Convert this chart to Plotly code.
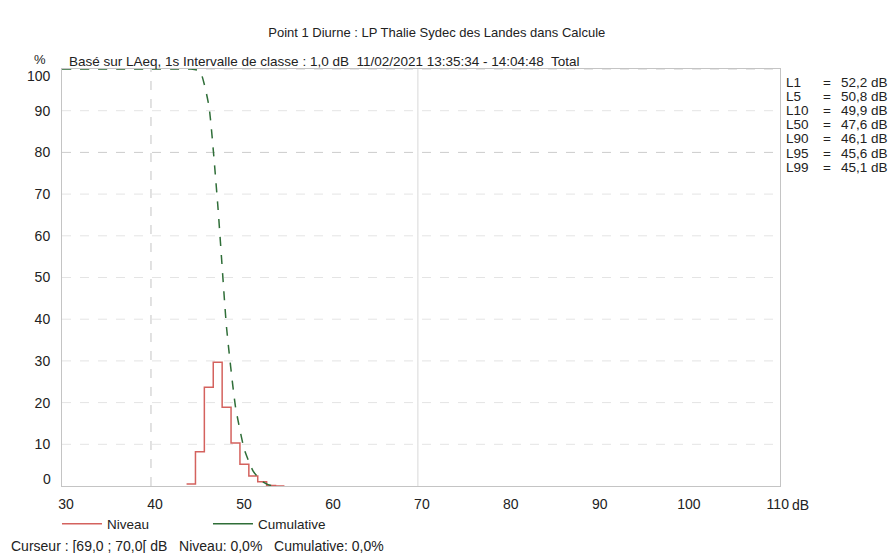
import plotly.graph_objects as go

# Histogram (Niveau), % per 1 dB class, classes starting at these levels
class_start = [44, 45, 46, 47, 48, 49, 50, 51, 52, 53, 54]
niveau = [0.5, 8.2, 23.7, 29.7, 18.9, 10.3, 5.2, 2.4, 1.0, 0.1, 0.0]

# Cumulative (% exceeding), plotted at class centres
cum_x = [30, 40, 43.5, 44.5, 45.5, 46.5, 47.5, 48.5, 49.5, 50.5, 51.5, 52.5, 53.5, 54.5]
cum_y = [100, 100, 100, 100, 99.5, 91.3, 67.6, 37.9, 19.0, 8.7, 3.5, 1.1, 0.1, 0.0]

x_ticks = [30, 40, 50, 60, 70, 80, 90, 100, 110]
y_ticks = [0, 10, 20, 30, 40, 50, 60, 70, 80, 90, 100]

stats_labels = ["L1", "L5", "L10", "L50", "L90", "L95", "L99"]
stats_values = ["52,2", "50,8", "49,9", "47,6", "46,1", "45,6", "45,1"]

title = "Point 1 Diurne : LP Thalie Sydec des Landes dans Calcule"
subtitle = "Basé sur LAeq, 1s Intervalle de classe : 1,0 dB  11/02/2021 13:35:34 - 14:04:48  Total"
cursor = "Curseur : [69,0 ; 70,0[ dB &nbsp; Niveau: 0,0% &nbsp; Cumulative: 0,0%"

RED = "#d4625e"
GREEN = "#2f6e38"
FONT = "Liberation Sans, Arial, sans-serif"
TXT = "#222222"

step_x = class_start + [class_start[-1] + 1]
step_y = niveau + [0.0]

fig = go.Figure()
fig.add_trace(go.Scatter(x=step_x, y=step_y, mode="lines", line=dict(color=RED, width=1.5, shape="hv"),
                         showlegend=False, hoverinfo="skip"))
fig.add_trace(go.Scatter(x=cum_x, y=cum_y, mode="lines",
                         line=dict(color=GREEN, width=1.5, dash="dash", shape="spline", smoothing=0.5),
                         showlegend=False, hoverinfo="skip"))
# legend-only entries (solid samples)
fig.add_trace(go.Scatter(x=[None], y=[None], mode="lines", name="Niveau", line=dict(color=RED, width=1.5)))
fig.add_trace(go.Scatter(x=[None], y=[None], mode="lines", name="Cumulative", line=dict(color=GREEN, width=1.5)))

# grid lines
for yv in y_ticks[1:]:
    fig.add_shape(type="line", xref="x", yref="y", x0=30, x1=110.7, y0=yv, y1=yv,
                  line=dict(color="#e4e4e4" if yv not in (80, 100) else "#cccccc", width=1, dash="dash"),
                  layer="below")
fig.add_shape(type="line", xref="x", yref="y", x0=40, x1=40, y0=0, y1=100,
              line=dict(color="#c4c4c4", width=1, dash="dash"), layer="below")
fig.add_shape(type="line", xref="x", yref="y", x0=70, x1=70, y0=0, y1=100,
              line=dict(color="#d8d8d8", width=1), layer="below")

# end tick labels are nudged inward in the reference
y_ticktext = ["" if v in (y_ticks[0], y_ticks[-1]) else str(v) for v in y_ticks]

fig.update_layout(
    width=895, height=553,
    margin=dict(l=62, r=115, t=69, b=67),
    paper_bgcolor="white", plot_bgcolor="white",
    font=dict(family=FONT, size=14, color=TXT),
    title=dict(text=title, x=0.488, xanchor="center", y=0.942, yanchor="middle",
               font=dict(family=FONT, size=13, color=TXT)),
    xaxis=dict(range=[30, 110.7], tickvals=x_ticks, showgrid=False, zeroline=False,
               showline=True, linecolor="#c4c4c4", linewidth=1, mirror=True,
               ticks="", ticklabelshift=4, ticklabelstandoff=5, tickfont=dict(size=14)),
    yaxis=dict(range=[0, 100], tickvals=y_ticks, ticktext=y_ticktext, showgrid=False, zeroline=False,
               showline=True, linecolor="#c4c4c4", linewidth=1, mirror=True,
               ticks="", ticklabelstandoff=8, tickfont=dict(size=14)),
    legend=dict(orientation="h", x=-0.007, xanchor="left", y=-0.054, yanchor="top",
                font=dict(size=13.5), entrywidth=96, bgcolor="rgba(0,0,0,0)",
                itemwidth=40),
    showlegend=True,
)

for v, sh in ((y_ticks[-1], -7), (y_ticks[0], 7)):
    fig.add_annotation(text=str(v), xref="paper", yref="y", x=0, xshift=-9, y=v, yshift=sh,
                       xanchor="right", yanchor="middle", showarrow=False, font=dict(size=14))

fig.add_annotation(text="%", xref="paper", yref="paper", x=0, xshift=-14, y=1.0, yshift=10,
                   xanchor="right", yanchor="middle", showarrow=False, font=dict(size=13))
fig.add_annotation(text=subtitle, xref="paper", yref="paper", x=0.0, xshift=5, y=1.0, yshift=8,
                   xanchor="left", yanchor="middle", showarrow=False, font=dict(size=13.5))
fig.add_annotation(text="dB", xref="paper", yref="paper", x=1.0, xshift=10, y=0, yshift=-19,
                   xanchor="left", yanchor="middle", showarrow=False, font=dict(size=14))
fig.add_annotation(text=cursor, xref="paper", yref="paper", x=0, xshift=-53, y=0, yshift=-60,
                   xanchor="left", yanchor="middle", showarrow=False, font=dict(size=14))

for i, (lab, val) in enumerate(zip(stats_labels, stats_values)):
    ys = -13 - 14.2 * i
    fig.add_annotation(text=lab, xref="paper", yref="paper", x=1.0, xshift=4, y=1.0, yshift=ys,
                       xanchor="left", yanchor="middle", showarrow=False, font=dict(size=13.5))
    fig.add_annotation(text="=", xref="paper", yref="paper", x=1.0, xshift=41, y=1.0, yshift=ys,
                       xanchor="left", yanchor="middle", showarrow=False, font=dict(size=13.5))
    fig.add_annotation(text=val + " dB", xref="paper", yref="paper", x=1.0, xshift=59, y=1.0,
                       yshift=ys, xanchor="left", yanchor="middle", showarrow=False,
                       font=dict(size=13.5))

fig.write_html("out.html", config={"displayModeBar": False},
               post_script="document.body.style.margin='0px';")
